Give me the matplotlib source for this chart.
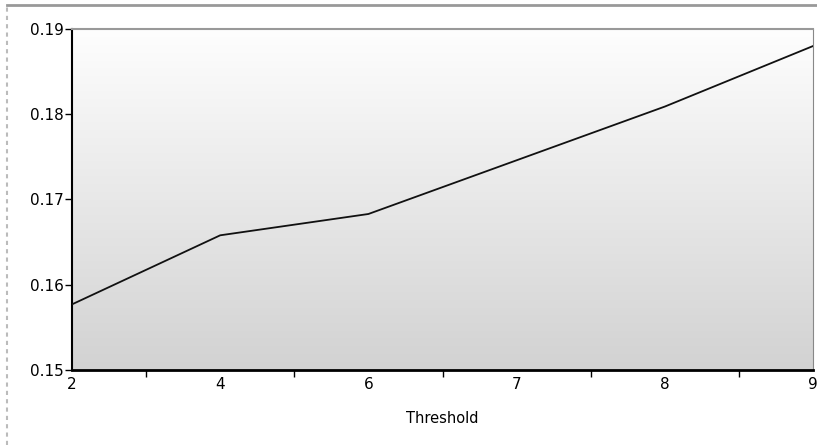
import numpy as np
import matplotlib.pyplot as plt
from matplotlib.lines import Line2D

thresholds = ['2', '4', '6', '7', '8', '9']
scores = [0.1577, 0.1658, 0.1683, 0.1746, 0.1809, 0.1880]

fig = plt.figure(figsize=(8.17, 4.45), dpi=100)
ax = fig.add_axes([72 / 817, 1 - 370 / 445, 741 / 817, 341 / 445])

# vertical grey gradient behind the line
grad = np.linspace(0, 1, 256).reshape(-1, 1)
ax.imshow(grad, cmap=plt.matplotlib.colors.LinearSegmentedColormap.from_list(
    'bg', ['#d2d2d2', '#fefefe']), origin='lower', aspect='auto',
    extent=[0, 1, 0, 1], transform=ax.transAxes, zorder=0)

x = np.arange(len(thresholds))
ax.plot(x, scores, color='#111111', lw=1.3, zorder=3)

ax.set_xlim(0, len(thresholds) - 1)
ax.set_ylim(0.15, 0.19)
ax.set_yticks([0.15, 0.16, 0.17, 0.18, 0.19])
ax.set_yticklabels(['0.15', '0.16', '0.17', '0.18', '0.19'])
ax.set_xticks(x)
ax.set_xticklabels(thresholds)
ax.set_xticks(x[:-1] + 0.5, minor=True)
ax.tick_params(axis='x', which='major', length=0, pad=5, labelsize=11)
ax.tick_params(axis='x', which='minor', length=5, width=1, direction='out')
ax.tick_params(axis='y', length=5, width=1, pad=1, labelsize=11)
ax.set_xlabel('Threshold', fontsize=10.5, labelpad=14)

ax.spines['bottom'].set_linewidth(2)
ax.spines['left'].set_linestyle((0, (2, 1)))
ax.spines['left'].set_linewidth(1.5)
ax.spines['top'].set_color('#999999')
ax.spines['top'].set_linewidth(1.5)
ax.spines['right'].set_color('#888888')
ax.spines['right'].set_linestyle((0, (1, 1)))

# panel border around the chart
fig.add_artist(Line2D([7 / 817, 1], [1 - 5 / 445, 1 - 5 / 445],
                      transform=fig.transFigure, color='#999999', lw=2))
fig.add_artist(Line2D([7 / 817, 7 / 817], [0, 1 - 5 / 445],
                      transform=fig.transFigure, color='#bbbbbb', lw=1.5,
                      ls=(0, (2, 2))))

fig.savefig('out.png', dpi=100)
